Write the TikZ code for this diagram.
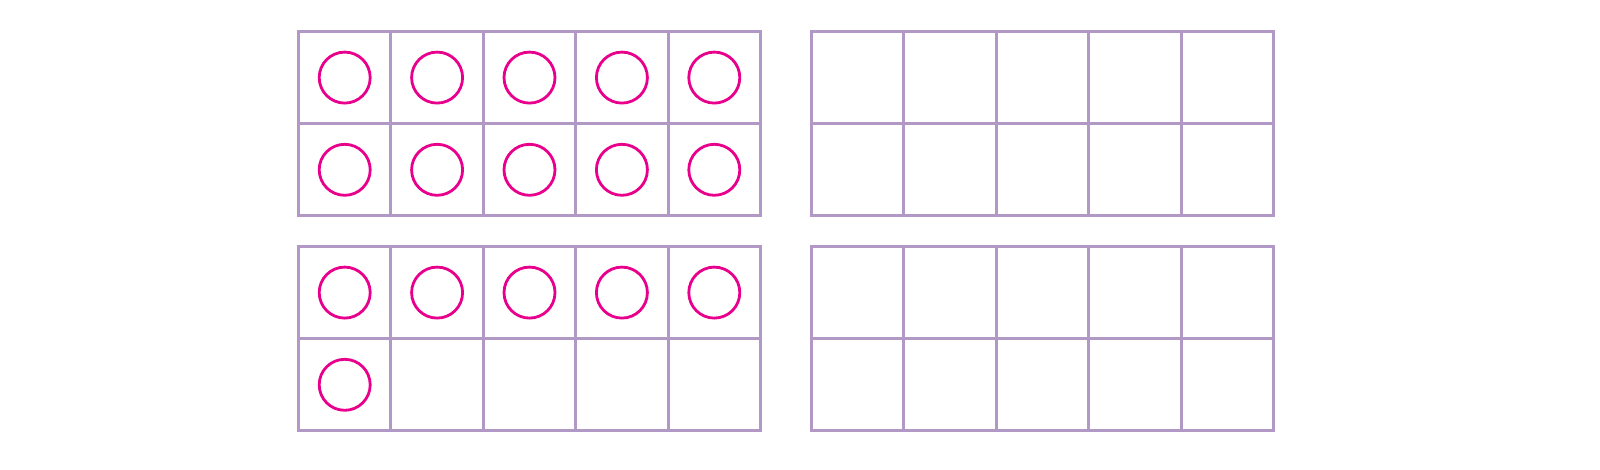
\documentclass[tikz,border=0pt]{standalone}
\usepackage{tikz}
\definecolor{framelilac}{RGB}{178,152,196}
\definecolor{counterpink}{RGB}{232,0,140}

\begin{document}
\begin{tikzpicture}[x=1pt,y=-1pt]
                \tikzstyle{cell}=[draw=framelilac,line width=3pt,minimum width=92.4pt,minimum height=92.2pt,inner sep=0pt]
                \tikzstyle{counter}=[circle,draw=counterpink,line width=2.8pt,minimum size=51pt,inner sep=0pt]
                \useasboundingbox (0,0) rectangle (1600,470);
                % four ten frames: left edge, top edge, number of counters
                \foreach \fx/\fy/\n [count=\f] in {298.5/31.5/10, 811.5/31.5/0, 298.5/246.5/6, 811.5/246.5/0} {
                    \foreach \r in {0,1} {
                        \foreach \c in {0,...,4} {
                            \node [cell] (f\f-\r\c) at ({\fx+46.2+92.4*\c},{\fy+46.1+92.2*\r}) {};
                            \pgfmathtruncatemacro\k{5*\r+\c}
                            \ifnum\k<\n
                                \node [counter] (d\f-\r\c) at (f\f-\r\c) {};
                            \fi
                        }
                    }
                }
\end{tikzpicture}
\end{document}
